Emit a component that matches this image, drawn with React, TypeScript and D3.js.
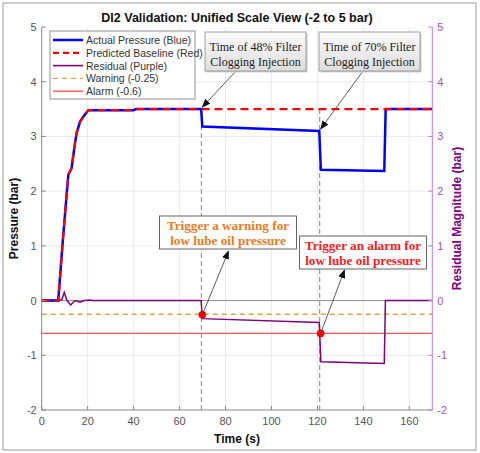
import React from "react";
import * as d3 from "d3";

const W = 480, H = 453;

// ---- data ----
const actualT = [0, 7.2, 9.1, 10.9, 11.6, 13.0, 14.5, 15.2, 16.7, 18.1, 20.3, 40, 41, 69.4, 69.9, 120.8, 121.5, 149.1, 149.7, 170];
const actualV = [0, 0, 1.05, 1.96, 2.30, 2.42, 2.88, 3.06, 3.27, 3.36, 3.48, 3.48, 3.5, 3.5, 3.18, 3.10, 2.39, 2.37, 3.5, 3.5];

const predT = [0, 7.2, 9.1, 10.9, 11.6, 13.0, 14.5, 15.2, 16.7, 18.1, 20.3, 40, 41, 170];
const predV = [0, 0, 1.05, 1.96, 2.30, 2.42, 2.88, 3.06, 3.27, 3.36, 3.48, 3.48, 3.5, 3.5];

const resT = [0, 7.7, 8.8, 9.8, 11.0, 12.6, 14.5, 16.7, 18.5, 21, 22, 69.4, 69.9, 120.8, 121.5, 149.1, 149.6, 170];
const resV = [0, 0, 0.02, 0.15, 0.0, -0.08, 0.0, -0.03, 0.0, 0.01, 0, 0, -0.33, -0.40, -1.12, -1.15, 0, 0];

const warningLevel = -0.25;
const alarmLevel = -0.6;
const injectionTimes = [69.5, 121];
const triggerPoints = [
  { t: 69.9, v: -0.26 },
  { t: 121.4, v: -0.6 },
];

const xTicks = [0, 20, 40, 60, 80, 100, 120, 140, 160];
const yTicks = [-2, -1, 0, 1, 2, 3, 4, 5];

const legendItems = [
  { label: "Actual Pressure (Blue)", color: "#0000ff", width: 2.5, dash: "" },
  { label: "Predicted Baseline (Red)", color: "#ff0000", width: 2.2, dash: "6,4" },
  { label: "Residual (Purple)", color: "#800080", width: 1.6, dash: "" },
  { label: "Warning (-0.25)", color: "#e6a23c", width: 1.4, dash: "5,4" },
  { label: "Alarm (-0.6)", color: "#ff5555", width: 1.4, dash: "" },
];

const sans = "'Liberation Sans', Arial, sans-serif";
const serif = "'Liberation Serif', 'Times New Roman', serif";

export default function App() {
  const x = d3.scaleLinear().domain([0, 170]).range([41.7, 432.3]);
  const y = d3.scaleLinear().domain([-2, 5]).range([410, 27]);
  const line = (ts: number[], vs: number[]) =>
    d3.line<number>().x((_, i) => x(ts[i])).y((v) => y(v))(vs) || "";

  const x0 = x.range()[0], x1 = x.range()[1];
  const yb = y(-2), yt = y(5);

  return (
    <svg width={W} height={H} style={{ position: "fixed", left: 0, top: 0, background: "#fff" }}>
      <defs>
        <linearGradient id="boxg" x1="0" y1="0" x2="0" y2="1">
          <stop offset="0" stopColor="#fbfbfb" />
          <stop offset="1" stopColor="#dedede" />
        </linearGradient>
        <marker id="arr" viewBox="0 0 10 10" refX="9" refY="5" markerWidth="9" markerHeight="9" orient="auto-start-reverse" markerUnits="userSpaceOnUse">
          <path d="M0,1 L10,5 L0,9 z" fill="#111" />
        </marker>
      </defs>
      <rect x={3} y={3} width={473} height={447} fill="#fff" stroke="#9a9a9a" strokeWidth={1} />

      {/* title */}
      <text x={237} y={22} textAnchor="middle" fontFamily={sans} fontWeight="bold" fontSize={12.5} fill="#111">
        DI2 Validation: Unified Scale View (-2 to 5 bar)
      </text>

      {/* grid */}
      {xTicks.filter((t) => t > 0).map((t) => (
        <line key={"gx" + t} x1={x(t)} x2={x(t)} y1={yb} y2={yt} stroke="#e4e4e4" strokeWidth={0.8} />
      ))}
      {yTicks.filter((t) => t > -2 && t < 5).map((t) => (
        <line key={"gy" + t} x1={x0} x2={x1} y1={y(t)} y2={y(t)} stroke="#e4e4e4" strokeWidth={0.8} />
      ))}

      {/* zero reference */}
      <line x1={x0} x2={x1} y1={y(0)} y2={y(0)} stroke="#777" strokeWidth={0.8} />
      {/* thresholds */}
      <line x1={x0} x2={x1} y1={y(warningLevel)} y2={y(warningLevel)} stroke="#e6a23c" strokeWidth={1.4} strokeDasharray="5,4" />
      <line x1={x0} x2={x1} y1={y(alarmLevel)} y2={y(alarmLevel)} stroke="#ff5555" strokeWidth={1.4} />

      {/* injection markers */}
      {injectionTimes.map((t) => (
        <line key={"inj" + t} x1={x(t)} x2={x(t)} y1={yb} y2={y(3.5)} stroke="#8a8a8a" strokeWidth={1} strokeDasharray="5,3" />
      ))}

      {/* series */}
      <path d={line(resT, resV)} fill="none" stroke="#800080" strokeWidth={1.5} />
      <path d={line(actualT, actualV)} fill="none" stroke="#0000ff" strokeWidth={2.5} />
      <path d={line(predT, predV)} fill="none" stroke="#ff0000" strokeWidth={2.2} strokeDasharray="8,5" />

      {/* trigger points */}
      {triggerPoints.map((p, i) => (
        <circle key={"tp" + i} cx={x(p.t)} cy={y(p.v)} r={3.6} fill="#ff0000" stroke="#cc0000" strokeWidth={0.5} />
      ))}

      {/* axes */}
      <line x1={x0} x2={x0} y1={yb} y2={yt} stroke="#888" strokeWidth={1} />
      <line x1={x0} x2={x1} y1={yb} y2={yb} stroke="#888" strokeWidth={1} />
      <line x1={x1} x2={x1} y1={yb} y2={yt} stroke="#c27fd6" strokeWidth={1} />
      {xTicks.map((t) => (
        <g key={"xt" + t}>
          <line x1={x(t)} x2={x(t)} y1={yb} y2={yb - 4} stroke="#888" />
          <text x={x(t)} y={yb + 15} textAnchor="middle" fontFamily={sans} fontSize={11} fill="#555">{t}</text>
        </g>
      ))}
      {yTicks.map((t) => (
        <g key={"yt" + t}>
          <line x1={x0} x2={x0 + 4} y1={y(t)} y2={y(t)} stroke="#888" />
          <text x={x0 - 5} y={y(t) + 4} textAnchor="end" fontFamily={sans} fontSize={11} fill="#555">{t}</text>
          <line x1={x1} x2={x1 - 4} y1={y(t)} y2={y(t)} stroke="#c27fd6" />
          <text x={x1 + 5} y={y(t) + 4} textAnchor="start" fontFamily={sans} fontSize={11} fill="#a64fc0">{t}</text>
        </g>
      ))}

      {/* axis labels */}
      <text x={237} y={443} textAnchor="middle" fontFamily={sans} fontWeight="bold" fontSize={12} fill="#111">Time (s)</text>
      <text transform={`translate(18,${(yb + yt) / 2}) rotate(-90)`} textAnchor="middle" fontFamily={sans} fontWeight="bold" fontSize={12} fill="#111">Pressure (bar)</text>
      <text transform={`translate(461,${(yb + yt) / 2}) rotate(-90)`} textAnchor="middle" fontFamily={sans} fontWeight="bold" fontSize={12} fill="#800080">Residual Magnitude (bar)</text>

      {/* legend */}
      <rect x={50} y={31} width={145} height={68} fill="#fff" stroke="#777" strokeWidth={0.8} />
      {legendItems.map((it, i) => {
        const ly = 40 + i * 12.8;
        return (
          <g key={"lg" + i}>
            <line x1={53} x2={83} y1={ly} y2={ly} stroke={it.color} strokeWidth={it.width} strokeDasharray={it.dash} />
            <text x={86} y={ly + 4} fontFamily={sans} fontSize={10.5} fill="#333">{it.label}</text>
          </g>
        );
      })}

      {/* injection annotation boxes */}
      {[
        { bx: 205, lines: ["Time of 48% Filter", "Clogging Injection"], from: [236, 71], t: 69.5, v: 3.5 },
        { bx: 319, lines: ["Time of 70% Filter", "Clogging Injection"], from: [363, 71], t: 121, v: 3.1 },
      ].map((a, i) => (
        <g key={"ann" + i}>
          <line x1={a.from[0]} y1={a.from[1]} x2={x(a.t) + 1} y2={y(a.v) - 2} stroke="#333" strokeWidth={0.8} markerEnd="url(#arr)" />
          <rect x={a.bx + 1.5} y={33.5} width={101} height={39} fill="#cfcfcf" />
          <rect x={a.bx} y={32} width={101} height={39} fill="url(#boxg)" stroke="#8a8a8a" strokeWidth={0.8} />
          <text x={a.bx + 50.5} y={51} textAnchor="middle" fontFamily={serif} fontSize={12} fill="#222">{a.lines[0]}</text>
          <text x={a.bx + 50.5} y={65.5} textAnchor="middle" fontFamily={serif} fontSize={12} fill="#222">{a.lines[1]}</text>
        </g>
      ))}

      {/* trigger annotation boxes */}
      {[
        { bx: 159.5, by: 216, w: 137, color: "#f07a1a", lines: ["Trigger a warning for", "low lube oil pressure"], to: [228.5, 251], p: triggerPoints[0] },
        { bx: 299.5, by: 236, w: 127, color: "#ff1a1a", lines: ["Trigger an alarm for", "low lube oil pressure"], to: [344.5, 270], p: triggerPoints[1] },
      ].map((a, i) => (
        <g key={"trg" + i}>
          <line x1={x(a.p.t)} y1={y(a.p.v)} x2={a.to[0]} y2={a.to[1]} stroke="#333" strokeWidth={0.8} markerEnd="url(#arr)" />
          <rect x={a.bx} y={a.by} width={a.w} height={33} fill="#fff" stroke="#555" strokeWidth={0.9} />
          <text x={a.bx + a.w / 2} y={a.by + 13.5} textAnchor="middle" fontFamily={serif} fontWeight="bold" fontSize={13.2} fill={a.color}>{a.lines[0]}</text>
          <text x={a.bx + a.w / 2} y={a.by + 28.5} textAnchor="middle" fontFamily={serif} fontWeight="bold" fontSize={13.2} fill={a.color}>{a.lines[1]}</text>
        </g>
      ))}
    </svg>
  );
}
